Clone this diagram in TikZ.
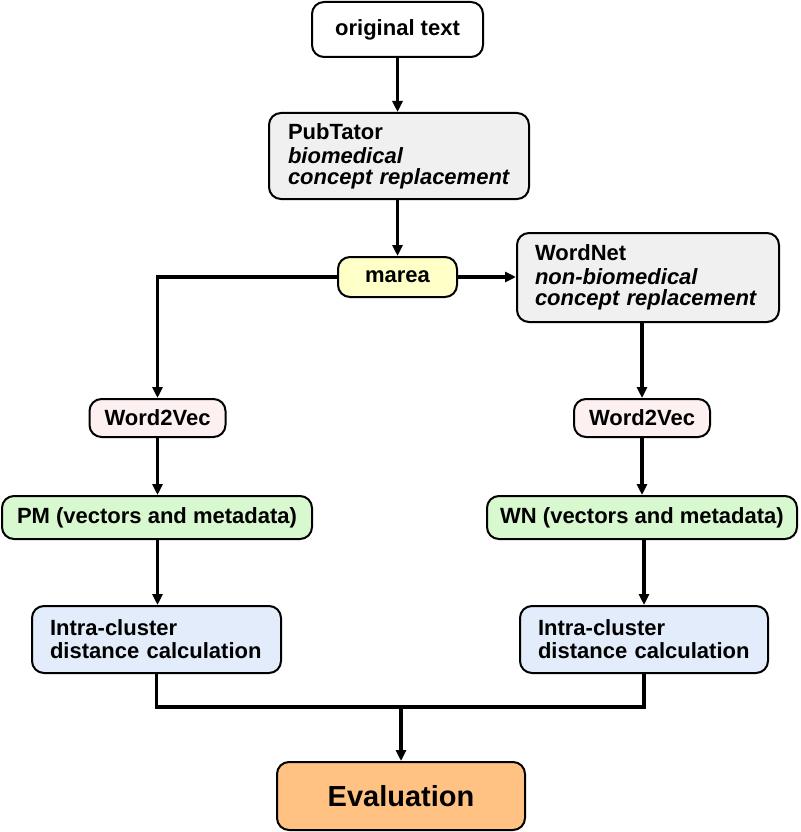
\documentclass[tikz,border=0pt]{standalone}
\usepackage{fontspec}
\setmainfont{Liberation Sans}
\usetikzlibrary{arrows.meta}

\definecolor{boxgray}{HTML}{F0F0F0}
\definecolor{boxyellow}{HTML}{FFFFC8}
\definecolor{boxpink}{HTML}{FDF0F1}
\definecolor{boxgreen}{HTML}{D8F8D0}
\definecolor{boxblue}{HTML}{E2ECFB}
\definecolor{boxorange}{HTML}{FFC283}

\tikzset{
  box/.style={draw=black, line width=2pt, rounded corners=12pt,
    font=\bfseries\fontsize{22}{23}\selectfont, inner sep=0pt, align=center},
  leftbox/.style={box, align=left, inner xsep=#1},
  flow/.style={line width=3.2pt, -{Triangle[length=11pt,width=10pt]}},
  joinline/.style={line width=3.2pt},
}

\begin{document}
\begin{tikzpicture}[x=1pt,y=-1pt]
\useasboundingbox (0,0) rectangle (800,832);

% main column
\node[box, minimum width=171pt, minimum height=55pt] (orig) at (397.5,29.5) {original text};
\node[leftbox=19pt, fill=boxgray, text width=222pt, minimum height=86pt,
      font=\bfseries\fontsize{22}{21}\selectfont] (pub) at (399,156)
  {PubTator\\[3pt]\itshape biomedical\\\itshape concept replacement};
\node[box, fill=boxyellow, minimum width=119pt, minimum height=40pt] (marea) at (397.5,277) {marea};
\node[leftbox=18pt, fill=boxgray, text width=226pt, minimum height=89pt,
      font=\bfseries\fontsize{22}{21}\selectfont] (wordnet) at (648,277.5)
  {WordNet\\[3pt]\itshape non-biomedical\\\itshape concept replacement};

% left branch
\node[box, fill=boxpink, minimum width=136pt, minimum height=38pt] (w2vL) at (157.5,418) {Word2Vec};
\node[box, fill=boxgreen, minimum width=310pt, minimum height=43pt] (pm) at (157,517.5) {PM (vectors and metadata)};
\node[leftbox=18pt, fill=boxblue, text width=213pt, minimum height=67pt] (intraL) at (156.5,639.5)
  {Intra-cluster\\distance calculation};

% right branch
\node[box, fill=boxpink, minimum width=136pt, minimum height=38pt] (w2vR) at (642,418) {Word2Vec};
\node[box, fill=boxgreen, minimum width=310pt, minimum height=43pt] (wn) at (642,517.5) {WN (vectors and metadata)};
\node[leftbox=18pt, fill=boxblue, text width=212pt, minimum height=67pt] (intraR) at (644,639.5)
  {Intra-cluster\\distance calculation};

% result
\node[box, fill=boxorange, minimum width=248pt, minimum height=68pt,
      font=\bfseries\fontsize{29}{31}\selectfont] (eval) at (401,796) {Evaluation};

% connectors
\draw[flow] (orig.south) -- (orig.south |- pub.north);
\draw[flow] (marea.north |- pub.south) -- (marea.north);
\draw[flow] (marea.west) -| (w2vL.north);
\draw[flow] (marea.east) -- (marea.east -| wordnet.west);
\draw[flow] (w2vR.north |- wordnet.south) -- (w2vR.north);
\draw[flow] (w2vL.south) -- (w2vL.south |- pm.north);
\draw[flow] (w2vL.south |- pm.south) -- (w2vL.south |- intraL.north);
\draw[flow] (w2vR.south) -- (wn.north);
\draw[flow] (wn.south -| intraR.north) -- (intraR.north);

\coordinate (join) at (401,707);
\draw[joinline] (intraL.south) |- (join) -| (intraR.south);
\draw[flow] (join) -- (eval.north);
\end{tikzpicture}
\end{document}
